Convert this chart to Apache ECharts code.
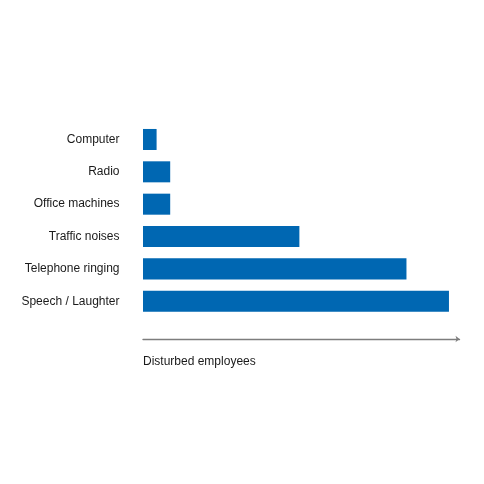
<!DOCTYPE html>
<html><head><meta charset="utf-8">
<script src="https://cdn.jsdelivr.net/npm/echarts@6/dist/echarts.min.js"></script>
<style>html,body{margin:0;padding:0;background:#fff}#c{width:484px;height:484px}</style>
</head><body><div id="c"></div>
<script>
const categories = ['Computer', 'Radio', 'Office machines', 'Traffic noises', 'Telephone ringing', 'Speech / Laughter'];
const values = [4, 8, 8, 46, 77.5, 90];
const axisTitle = 'Disturbed employees';

const chart = echarts.init(document.getElementById('c'), null, {renderer: 'canvas'});
chart.setOption({
  animation: false,
  grid: {left: 143, top: 123.3, width: 316.5, height: 194.1, containLabel: false},
  xAxis: {
    type: 'value', min: 0, max: 93.1,
    offset: 21.6,
    axisLine: {show: true, symbol: ['none', 'arrow'], symbolSize: [5, 4], lineStyle: {color: '#7d7d7d', width: 1.4}},
    axisTick: {show: false}, axisLabel: {show: false}, splitLine: {show: false}
  },
  yAxis: {
    type: 'category', data: categories, inverse: true,
    axisLine: {show: false}, axisTick: {show: false}, splitLine: {show: false},
    axisLabel: {margin: 23.5, color: '#1a1a1a', fontSize: 12, fontFamily: 'Liberation Sans, Arial, sans-serif'}
  },
  series: [{
    type: 'bar', data: values, barCategoryGap: '35%',
    itemStyle: {color: '#0067b2'}
  }],
  graphic: [{
    type: 'text', left: 143, top: 356,
    style: {text: axisTitle, fill: '#1a1a1a', fontSize: 12, fontFamily: 'Liberation Sans, Arial, sans-serif'}
  }]
});
</script></body></html>
